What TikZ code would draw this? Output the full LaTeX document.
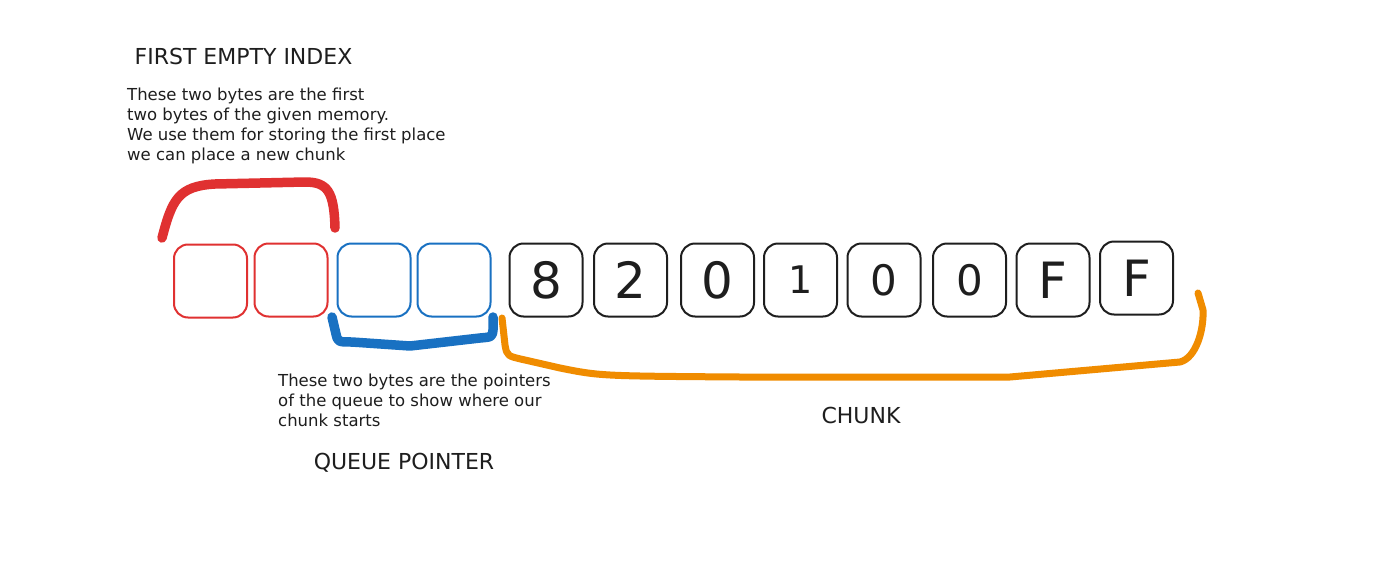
\documentclass[tikz,border=0pt]{standalone}
\usepackage{fontspec}
\setmainfont{DejaVu Sans}
\definecolor{ink}{HTML}{1E1E1E}
\definecolor{xred}{HTML}{E03131}
\definecolor{xblue}{HTML}{1971C2}
\definecolor{xorange}{HTML}{F08C00}
\tikzset{
  cell/.style={draw=#1, line width=2pt, rounded corners=14pt, minimum width=73pt, minimum height=73pt, inner sep=0pt, text=ink, font=\fontsize{50}{50}\selectfont},
  bracket/.style={draw=#1, line width=9.5pt, line cap=round, line join=round},
  note/.style={align=left, anchor=north west, inner sep=0pt, text=ink, font=\fontsize{16.5}{20}\selectfont},
  title/.style={anchor=center, inner sep=0pt, text=ink, font=\fontsize{22}{24}\selectfont}
}
\begin{document}
\begin{tikzpicture}[x=1pt,y=-1pt]
\useasboundingbox (0,0) rectangle (1391,578);
\fill[white] (0,0) rectangle (1391,578);
% cells
\node[cell=xred] (r1) at (210.5,281) {};
\node[cell=xred] (r2) at (291,280) {};
\node[cell=xblue] (b1) at (374,280) {};
\node[cell=xblue] (b2) at (454,280) {};
\node[cell=ink] (c1) at (546,280) {\raisebox{-5pt}{8}};
\node[cell=ink] (c2) at (630.5,280) {\raisebox{-4pt}{2}};
\node[cell=ink] (c3) at (717.5,280) {\raisebox{-3pt}{0}};
\node[cell=ink] (c4) at (800.5,280) {\raisebox{-6pt}{\fontsize{38}{38}\selectfont 1}};
\node[cell=ink] (c5) at (884,280) {\raisebox{-4pt}{\fontsize{42}{42}\selectfont 0}};
\node[cell=ink] (c6) at (969.5,280) {\raisebox{-4pt}{\fontsize{42}{42}\selectfont 0}};
\node[cell=ink] (c7) at (1053,280) {F};
\node[cell=ink] (c8) at (1136.5,278) {F};
% texts
\node[title] (fei) at (243.5,56) {FIRST EMPTY INDEX};
\node[note] (n1) at (127,88) {These two bytes are the first\\two bytes of the given memory.\\We use them for storing the first place\\we can place a new chunk};
\node[note] (n2) at (278,374) {These two bytes are the pointers\\of the queue to show where our\\chunk starts};
\node[title] (qp) at (404,463) {QUEUE POINTER};
\node[title] (ch) at (861,415) {CHUNK};
% bracket end points
\coordinate (ra) at (162,238);
\coordinate (rb) at (335,228);
\coordinate (ba) at (332,317);
\coordinate (bb) at (493,317);
\coordinate (oa) at (502,318);
\coordinate (ob) at (1198,293);
% brackets
\draw[bracket=xred] (ra) .. controls (172,200) and (178,186) .. (215,184) -- (305,182) .. controls (328,182) and (334,192) .. (rb);
\draw[bracket=xblue] (ba) -- (336,334) .. controls (338,342) .. (352,342) -- (410,346) -- (480,338) .. controls (492,337) .. (493,330) -- (bb);
\draw[bracket=xorange, line width=7pt] (oa) -- (505,345) .. controls (507,356) .. (525,360) -- (560,368) .. controls (600,376) .. (740,377) -- (1010,377) -- (1180,362) .. controls (1196,358) and (1204,330) .. (1203,310) -- (ob);
\end{tikzpicture}
\end{document}
